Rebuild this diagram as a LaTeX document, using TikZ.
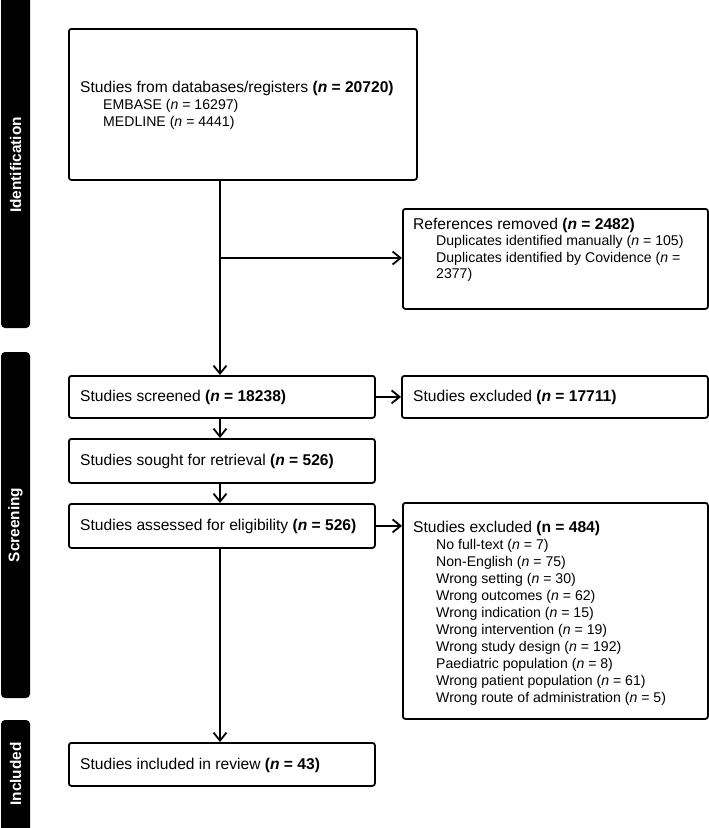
\documentclass[tikz,border=0pt]{standalone}
\usepackage{fontspec}
\setmainfont{Liberation Sans}
\usetikzlibrary{arrows.meta}
\begin{document}
\begin{tikzpicture}[x=1pt,y=-1pt,
 box/.style={draw, line width=1.8pt, rounded corners=2.5pt, inner sep=0pt, anchor=north west},
 phase/.style={fill=black, rounded corners=4pt},
 phasetxt/.style={text=white, font=\fontsize{15.4}{17}\selectfont\bfseries, rotate=90, inner sep=0pt},
 txt/.style={anchor=base west, inner sep=0pt, font=\fontsize{15.6}{17}\selectfont},
 sub/.style={anchor=base west, inner sep=0pt, font=\fontsize{14.1}{17}\selectfont},
 arr/.style={line width=1.8pt, -{Straight Barb[length=8pt,width=13pt,line width=1.8pt]}},
 ln/.style={line width=1.8pt}]
\path[use as bounding box, fill=white] (0,0) rectangle (709,828);
% phase bars
\fill[phase] (1,-10) rectangle (30,328);
\fill[phase] (1,352) rectangle (30,698);
\fill[phase] (1,720) rectangle (30,840);
\node[phasetxt] (pid) at (15.5,165) {Identification};
\node[phasetxt] (pscr) at (15.5,525) {Screening};
\node[phasetxt] (pinc) at (15.5,774) {Included};
% boxes
\node[box, minimum width=348pt, minimum height=151pt] (b1) at (68,28) {};
\node[box, minimum width=305pt, minimum height=100pt] (refs) at (402,208) {};
\node[box, minimum width=306pt, minimum height=42pt] (scr) at (68,375) {};
\node[box, minimum width=306pt, minimum height=42pt] (ex1) at (401,375) {};
\node[box, minimum width=306pt, minimum height=44pt] (sought) at (68,438) {};
\node[box, minimum width=306pt, minimum height=44pt] (ass) at (68,503) {};
\node[box, minimum width=305pt, minimum height=216pt] (ex2) at (402,502) {};
\node[box, minimum width=306pt, minimum height=43pt] (inc) at (68,742) {};
% texts
\node[txt] (t1a) at (80,92) {Studies from databases/registers \textbf{(\textit{n} = 20720)}};
\node[sub] (t1b) at (103,109) {EMBASE (\textit{n} = 16297)};
\node[sub] (t1c) at (103,126) {MEDLINE (\textit{n} = 4441)};
\node[txt] (t2a) at (413,229) {References removed \textbf{(\textit{n} = 2482)}};
\node[sub] (t2b) at (436,245.6) {Duplicates identified manually (\textit{n} = 105)};
\node[sub] (t2c) at (436,262.2) {Duplicates identified by Covidence (\textit{n} =};
\node[sub] (t2d) at (436,278.8) {2377)};
\node[txt] (t3) at (80,401.5) {Studies screened \textbf{(\textit{n} = 18238)}};
\node[txt] (t4) at (413,401.5) {Studies excluded \textbf{(\textit{n} = 17711)}};
\node[txt] (t5) at (80,465.5) {Studies sought for retrieval \textbf{(\textit{n} = 526)}};
\node[txt] (t6) at (80,530.5) {Studies assessed for eligibility \textbf{(\textit{n} = 526)}};
\node[txt] (t7) at (413,532) {Studies excluded \textbf{(n = 484)}};
\node[sub] (t7a) at (436,549) {No full-text (\textit{n} = 7)};
\node[sub] (t7b) at (436,566) {Non-English (\textit{n} = 75)};
\node[sub] (t7c) at (436,583) {Wrong setting (\textit{n} = 30)};
\node[sub] (t7d) at (436,600) {Wrong outcomes (\textit{n} = 62)};
\node[sub] (t7e) at (436,617) {Wrong indication (\textit{n} = 15)};
\node[sub] (t7f) at (436,634) {Wrong intervention (\textit{n} = 19)};
\node[sub] (t7g) at (436,651) {Wrong study design (\textit{n} = 192)};
\node[sub] (t7h) at (436,668) {Paediatric population (\textit{n} = 8)};
\node[sub] (t7i) at (436,685) {Wrong patient population (\textit{n} = 61)};
\node[sub] (t7j) at (436,702) {Wrong route of administration (\textit{n} = 5)};
\node[txt] (t8) at (80,769.5) {Studies included in review \textbf{(\textit{n} = 43)}};
% connectors
\coordinate (spine) at (220,0);
\coordinate (br) at (220,258);
\draw[arr] (b1.south -| spine) -- (scr.north -| spine);
\draw[arr] (br) -- (br -| refs.west);
\draw[arr] (scr.east) -- (ex1.west);
\draw[arr] (scr.south -| spine) -- (sought.north -| spine);
\draw[arr] (sought.south -| spine) -- (ass.north -| spine);
\draw[arr] (ass.east) -- (ass.east -| ex2.west);
\draw[arr] (ass.south -| spine) -- (inc.north -| spine);
\end{tikzpicture}
\end{document}
